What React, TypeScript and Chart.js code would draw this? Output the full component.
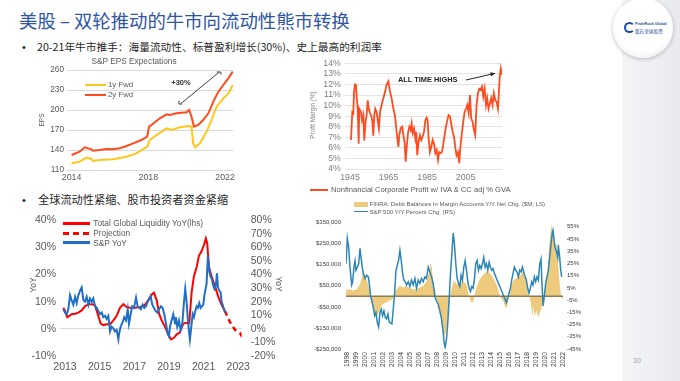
import React, { useEffect, useRef } from "react";
import { Chart, registerables } from "chart.js";

Chart.register(...registerables);

const SANS = "'Liberation Sans', Arial, sans-serif";
const CJK = "'Noto Sans CJK SC', 'Noto Sans', sans-serif";

// ---------------- Chart 1: S&P EPS Expectations ----------------
const EPS_2Y_YEARS = [2014.0, 2014.42, 2014.68, 2015.03, 2015.11, 2015.46, 2015.81, 2016.16, 2016.51, 2016.86, 2017.21, 2017.64, 2017.94, 2018.04, 2018.16, 2018.6, 2018.95, 2019.12, 2019.47, 2019.99, 2020.13, 2020.25, 2020.38, 2020.6, 2020.86, 2021.13, 2021.39, 2021.65, 2021.91, 2022.17, 2022.4];
const EPS_2Y = [132.5, 137.5, 144, 141, 139, 140, 141.5, 141, 142.5, 146, 150, 155, 160, 175, 177.5, 187.5, 193.5, 192.5, 195, 196.5, 200, 190, 175, 177.5, 185, 195, 212.5, 227.5, 237.5, 247.5, 257.5];
const EPS_1Y_YEARS = [2014.0, 2014.42, 2014.77, 2015.03, 2015.11, 2015.46, 2016.16, 2016.86, 2017.38, 2017.94, 2018.08, 2018.43, 2018.95, 2019.21, 2019.65, 2020.08, 2020.25, 2020.34, 2020.43, 2020.69, 2021.04, 2021.3, 2021.56, 2021.91, 2022.17, 2022.4];
const EPS_1Y = [120, 122.5, 128.5, 126.5, 123.5, 125, 126, 130, 135, 145, 155, 162.5, 172.5, 170, 174, 176, 175, 150, 144, 150, 167.5, 185, 205, 217.5, 225, 237.5];
const EPS_X_TICKS = [2014, 2018, 2022];
const EPS_Y_TICKS = [110, 140, 170, 200, 230, 260];
const EPS_BRACKET = [
  [[2019.6, 214], [2019.6, 209], [2019.76, 209]],
  [[2019.69, 209.45], [2021.7, 257]],
  [[2021.57, 257], [2021.77, 257], [2021.8, 253]],
];

// ---------------- Chart 2: Profit margin ----------------
const PM_YEARS = [1945.5, 1946.2, 1946.7, 1947.1, 1947.6, 1948.1, 1948.5, 1949.0, 1949.5, 1949.8,
  1950.7, 1951.2, 1951.9, 1952.4, 1953.1, 1953.6, 1954.2, 1954.7, 1955.4, 1956.1,
  1956.6, 1957.1, 1957.6, 1958.1, 1958.8, 1959.4, 1960.0, 1960.6, 1961.4, 1962.3,
  1963.2, 1964.0, 1964.9, 1965.8, 1966.6, 1967.5, 1968.3, 1969.2, 1970.1, 1970.6,
  1971.3, 1972.1, 1972.7, 1973.4, 1973.9, 1974.4, 1975.1, 1975.8, 1976.5, 1977.0,
  1977.5, 1978.2, 1978.9, 1979.4, 1979.9, 1980.6, 1981.3, 1982.0, 1982.7, 1983.4,
  1984.1, 1984.8, 1985.3, 1985.8, 1986.5, 1987.2, 1987.9, 1988.6, 1989.3, 1990.0,
  1990.7, 1991.3, 1992.0, 1992.7, 1993.4, 1994.1, 1994.8, 1995.5, 1996.2, 1996.9,
  1997.6, 1998.3, 1999.0, 1999.6, 2000.3, 2001.0, 2001.7, 2002.4, 2003.1, 2003.8,
  2004.5, 2005.2, 2005.9, 2006.6, 2007.3, 2007.9, 2008.6, 2009.3, 2010.0, 2010.7,
  2011.4, 2012.1, 2012.8, 2013.5, 2014.2, 2014.9, 2015.6, 2016.2, 2016.9, 2017.6,
  2018.3, 2019.0, 2019.7, 2020.4, 2021.1, 2021.8, 2022.3, 2022.8, 2023.3, 2023.9];
const PM = [6.74, 9.36, 9.27, 11.3, 12.0, 11.95, 10.7, 9.7, 6.4, 9.7,
  9.4, 8.6, 9.1, 6.7, 8.5, 9.1, 10.5, 9.7, 9.3, 9.0,
  8.5, 7.15, 9.1, 9.7, 9.4, 8.6, 7.85, 9.4, 10.05, 10.7,
  11.3, 12.0, 12.3, 11.3, 10.7, 9.7, 9.1, 7.5, 6.1, 7.2,
  7.85, 8.0, 7.2, 6.4, 4.7, 6.0, 7.4, 8.0, 7.7, 8.3,
  7.4, 7.85, 6.9, 7.5, 5.3, 6.6, 7.2, 6.75, 7.05, 7.5,
  8.6, 8.85, 8.6, 6.9, 5.6, 6.1, 6.75, 6.4, 5.5, 5.8,
  4.85, 5.6, 5.5, 5.6, 6.3, 7.2, 8.0, 8.6, 9.1, 9.0,
  8.2, 7.5, 7.05, 6.1, 5.3, 5.6, 4.55, 6.3, 7.4, 8.5,
  9.4, 9.7, 10.05, 9.3, 11.0, 8.8, 8.5, 7.7, 7.2, 10.05,
  11.15, 11.6, 11.5, 11.8, 10.85, 11.6, 10.05, 10.7, 9.7, 10.2,
  10.7, 10.05, 11.15, 10.5, 10.35, 9.7, 11.3, 12.9, 13.5, 12.9];
const PM_X_TICKS = [1945, 1965, 1985, 2005];
const PM_Y_TICKS = [4, 5, 6, 7, 8, 9, 10, 11, 12, 13, 14];
const PM_ARROW = [[[2005.2, 12.42], [2020.3, 13.05]]];

// ---------------- Chart 3: Global liquidity vs S&P YoY ----------------
const LIQ_YEARS = [2012.9, 2013.0, 2013.13, 2013.25, 2013.38, 2013.58, 2013.77, 2013.96, 2014.15, 2014.35,
  2014.54, 2014.73, 2014.92, 2015.06, 2015.21, 2015.4, 2015.6, 2015.79, 2015.98, 2016.17,
  2016.37, 2016.56, 2016.75, 2017.04, 2017.33, 2017.62, 2017.81, 2018.0, 2018.13, 2018.29,
  2018.44, 2018.58, 2018.77, 2018.96, 2019.12, 2019.29, 2019.44, 2019.63, 2019.83, 2020.02,
  2020.17, 2020.31, 2020.44, 2020.6, 2020.73, 2020.88, 2021.02, 2021.13, 2021.21, 2021.31,
  2021.46, 2021.65, 2021.85, 2022.04, 2022.23];
const LIQ = [7.75, 6.6, 4.3, 4.8, 5.4, 5.6, 6.0, 6.8, 8.3, 9.1,
  9.1, 8.7, 4.8, 1.95, 1.4, 1.7, 1.7, 3.1, 4.8, 7.75,
  9.1, 8.0, 7.75, 7.75, 8.0, 8.9, 10.6, 12.6, 13.3, 10.6,
  5.4, 3.1, 0.8, -2.1, -3.85, -3.3, -2.1, -1.3, 1.95, 2.2,
  1.95, 13.5, 19.35, 22.8, 26.9, 28.6, 30.9, 33.3, 31.5, 22.8,
  19.35, 15.9, 11.8, 8.9, 6.6];
const PROJ_YEARS = [2022.23, 2022.52, 2022.81, 2023.1, 2023.23];
const PROJ = [6.6, 2.55, -0.35, -1.5, -3.0];
const SPX_YEARS = [2012.9, 2013.0, 2013.1, 2013.19, 2013.29, 2013.38, 2013.48, 2013.58, 2013.67, 2013.77,
  2013.87, 2013.96, 2014.06, 2014.15, 2014.25, 2014.35, 2014.44, 2014.54, 2014.63, 2014.73,
  2014.83, 2014.92, 2015.02, 2015.12, 2015.21, 2015.31, 2015.4, 2015.5, 2015.6, 2015.69,
  2015.79, 2015.88, 2015.98, 2016.08, 2016.13, 2016.21, 2016.33, 2016.42, 2016.52, 2016.62,
  2016.69, 2016.79, 2016.88, 2016.98, 2017.1, 2017.19, 2017.29, 2017.38, 2017.48, 2017.58,
  2017.67, 2017.77, 2017.87, 2017.94, 2018.04, 2018.13, 2018.23, 2018.33, 2018.42, 2018.54,
  2018.63, 2018.73, 2018.83, 2018.92, 2019.0, 2019.06, 2019.15, 2019.25, 2019.35, 2019.4,
  2019.48, 2019.58, 2019.67, 2019.77, 2019.87, 2019.94, 2020.02, 2020.08, 2020.15, 2020.21,
  2020.29, 2020.37, 2020.44, 2020.52, 2020.6, 2020.67, 2020.75, 2020.83, 2020.9, 2020.98,
  2021.06, 2021.17, 2021.25, 2021.33, 2021.4, 2021.48, 2021.56, 2021.63, 2021.71, 2021.77,
  2021.83, 2021.9, 2021.98, 2022.04, 2022.1, 2022.17, 2022.25];
const SPX = [14.4, 12, 10.8, 14.4, 24.8, 21.2, 17.8, 23.6, 19, 24.8,
  28.2, 30.6, 21.2, 20, 23.6, 17.8, 22.4, 20, 22.4, 16.6,
  15.5, 13.2, 10.8, 12, 8.6, 9.6, 7.4, 9.6, -1.8, 1.6,
  0.4, -1.8, -0.7, -7.7, -3, 1.6, 5.1, 8.6, 6.2, 14.4,
  3.9, 10.8, 16.6, 15.5, 23, 16.6, 15.5, 14.4, 17.8, 15.5,
  16.6, 20, 22.4, 24.2, 17.8, 15.5, 13.2, 12, 14.4, 16.6,
  15.5, 10.8, 3.9, -3, -5.4, 1.6, 6.2, 10.8, 3.9, 8.6,
  1.6, 6.2, -0.7, 3.9, 20, 29.4, 20, 8.6, -0.7, -7.7,
  1.6, 10.8, 8.6, 13.2, 16.6, 15.5, 19, 15.5, 16.6, 17.8,
  26, 33, 53.8, 42.2, 38.7, 36.4, 31.8, 29.4, 31.8, 41,
  30.6, 28.2, 27, 20, 17.8, 14.4, 12];
const LIQ_X_TICKS = [2013, 2015, 2017, 2019, 2021, 2023];
const LIQ_Y_TICKS = [-10, 0, 10, 20, 30, 40];
const SPX_Y_TICKS = [-20, -10, 0, 10, 20, 30, 40, 50, 60, 70, 80];

// ---------------- Chart 4: FINRA margin debt vs S&P 500 ----------------
const FINRA_YEARS = [1997.85, 1998.29, 1998.66, 1999.04, 1999.41, 1999.59, 1999.78, 1999.96, 2000.15, 2000.33,
  2000.52, 2000.7, 2000.89, 2001.07, 2001.26, 2001.44, 2001.63, 2001.81, 2002.0, 2002.37,
  2002.74, 2003.11, 2003.29, 2003.48, 2003.85, 2004.22, 2004.59, 2004.96, 2005.33, 2005.7,
  2006.07, 2006.44, 2006.81, 2007.11, 2007.26, 2007.41, 2007.55, 2007.74, 2007.92, 2008.11,
  2008.29, 2008.48, 2008.66, 2008.81, 2008.96, 2009.11, 2009.26, 2009.41, 2009.59, 2009.78,
  2009.96, 2010.15, 2010.52, 2010.89, 2011.26, 2011.44, 2011.63, 2011.81, 2012.0, 2012.18,
  2012.37, 2012.74, 2013.11, 2013.48, 2013.85, 2014.22, 2014.59, 2014.78, 2014.96, 2015.15,
  2015.33, 2015.52, 2015.7, 2015.89, 2016.07, 2016.26, 2016.44, 2016.81, 2017.18, 2017.55,
  2017.74, 2017.92, 2018.11, 2018.29, 2018.48, 2018.59, 2018.74, 2018.85, 2019.04, 2019.22,
  2019.41, 2019.59, 2019.78, 2019.96, 2020.15, 2020.33, 2020.52, 2020.74, 2020.89, 2021.07,
  2021.26, 2021.44, 2021.63, 2021.81, 2021.96];
const FINRA = [30000, 34000, 26000, 34000, 57000, 88000, 125000, 103000, 80000, 57000,
  18000, -35000, -51000, -82000, -97000, -82000, -66000, -43000, -35000, -28000,
  -20000, -12000, 18000, 34000, 49000, 42000, 49000, 38000, 34000, 34000,
  42000, 49000, 72000, 118000, 157000, 134000, 72000, 34000, -5000, -43000,
  -82000, -112000, -158000, -189000, -174000, -128000, -66000, -5000, 34000, 65000,
  72000, 57000, 65000, 72000, 57000, 18000, -12000, -28000, -28000, 11000,
  42000, 80000, 103000, 118000, 111000, 88000, 57000, 34000, 3000, -12000,
  -20000, -43000, -58000, -20000, 11000, 49000, 72000, 88000, 95000, 118000,
  95000, 72000, 34000, -5000, -43000, -97000, -51000, -97000, -66000, -97000,
  -82000, -58000, -5000, 34000, 72000, 149000, 272000, 342000, 303000, 226000,
  257000, 165000, 57000, -5000, -20000];
const SP500_YEARS = [1997.85, 1998.0, 1998.15, 1998.29, 1998.48, 1998.59, 1998.74, 1998.85, 1998.96, 1999.11,
  1999.26, 1999.41, 1999.52, 1999.66, 1999.78, 1999.96, 2000.15, 2000.33, 2000.44, 2000.59,
  2000.74, 2000.89, 2001.04, 2001.18, 2001.33, 2001.48, 2001.63, 2001.78, 2001.92, 2002.07,
  2002.22, 2002.37, 2002.52, 2002.66, 2002.81, 2002.96, 2003.11, 2003.26, 2003.41, 2003.55,
  2003.7, 2003.85, 2004.0, 2004.15, 2004.29, 2004.44, 2004.59, 2004.78, 2004.96, 2005.15,
  2005.33, 2005.52, 2005.7, 2005.89, 2006.07, 2006.26, 2006.44, 2006.63, 2006.81, 2007.0,
  2007.18, 2007.37, 2007.55, 2007.74, 2007.92, 2008.11, 2008.29, 2008.48, 2008.66, 2008.78,
  2008.89, 2009.04, 2009.18, 2009.33, 2009.48, 2009.63, 2009.78, 2009.92, 2010.07, 2010.22,
  2010.37, 2010.52, 2010.66, 2010.81, 2010.96, 2011.11, 2011.26, 2011.41, 2011.55, 2011.7,
  2011.85, 2012.0, 2012.15, 2012.29, 2012.44, 2012.59, 2012.74, 2012.89, 2013.04, 2013.18,
  2013.33, 2013.48, 2013.63, 2013.78, 2013.92, 2014.07, 2014.22, 2014.37, 2014.52, 2014.66,
  2014.81, 2014.96, 2015.11, 2015.26, 2015.41, 2015.55, 2015.7, 2015.85, 2016.0, 2016.15,
  2016.29, 2016.44, 2016.59, 2016.74, 2016.89, 2017.04, 2017.18, 2017.33, 2017.48, 2017.63,
  2017.78, 2017.92, 2018.07, 2018.22, 2018.37, 2018.52, 2018.66, 2018.81, 2018.96, 2019.11,
  2019.26, 2019.41, 2019.55, 2019.66, 2019.78, 2019.92, 2020.07, 2020.22, 2020.37, 2020.52,
  2020.66, 2020.81, 2020.89, 2021.11, 2021.26, 2021.41, 2021.48, 2021.63, 2021.74, 2021.85];
const SP500 = [24.7, 45.4, 38, 22, 7.4, 10, 22, 27, 19.4, 22,
  24.7, 37.4, 30, 22, 16.7, 12.7, 15.4, 14, 8.75, -1.9,
  -5.8, -11.1, -17.8, -15.1, -23, -27, -15.1, -12.5, -17.8, -13.8,
  -19.1, -20.4, -16.4, -23, -23.6, -24.4, -12.5, 0.8, 19.4, 23.3,
  27.3, 35.8, 27.3, 16.7, 11.4, 10, 7.4, 10, 6.1, 11.4,
  7.4, 12.7, 4.8, 11.4, 8.75, 12.7, 10, 14, 12.7, 22,
  18, 14, 8.75, -1.9, -5.8, -8.5, -13.8, -20.4, -31, -40.3,
  -43.8, -36.3, -23, -4.5, 16.7, 32.6, 49.9, 40.6, 24.7, 12.7,
  8.75, 6.1, 15.4, 11.4, 22, 27.3, 19.4, 10, 4.8, 2.1,
  6.1, 4.8, 12.7, 24.7, 27.3, 19.4, 23.3, 20.7, 24.7, 30,
  22, 24.7, 19.4, 26, 22, 19.4, 20.7, 16.7, 14, 11.4,
  8.75, 6.1, 3.4, 0.8, -1.9, -4.5, -7.2, -3.2, 0.8, 4.8,
  11.4, 16.7, 22, 19.4, 18, 14, 19.4, 18, 22, 18,
  14, 11.4, 4.8, 0.8, 4.8, 10, 7.4, 14, 10, 14,
  11.4, 24.7, 28.6, 8.75, -9.8, -1.9, 8.75, 14, 19.4, 30,
  40.6, 49.9, 52, 38, 35, 30, 40, 30, 20, 14];
const FINRA_X_TICKS = [1998, 1999, 2000, 2001, 2002, 2003, 2004, 2005, 2006, 2007, 2008, 2009, 2010, 2011, 2012, 2013, 2014, 2015, 2016, 2017, 2018, 2019, 2020, 2021, 2022];
const FINRA_Y_TICKS = [-250000, -150000, -50000, 50000, 150000, 250000, 350000];
const SP500_Y_TICKS = [-45, -35, -25, -15, -5, 5, 15, 25, 35, 45, 55];

// ---------------- helpers ----------------
const pts = (xs: number[], ys: number[]) => xs.map((x, i) => ({ x, y: ys[i] }));
const fixW = (w: number) => (s: any) => { s.width = w; };
const fixH = (h: number) => (s: any) => { s.height = h; };
const setTicks = (vals: number[]) => (s: any) => { s.ticks = vals.map((value) => ({ value })); };

const base = (padding: any) => ({
  animation: false,
  responsive: false,
  maintainAspectRatio: false,
  devicePixelRatio: 1,
  events: [],
  layout: { padding },
  plugins: { legend: { display: false }, tooltip: { enabled: false }, title: { display: false } },
  elements: { point: { radius: 0 }, line: { tension: 0 } },
});

function polylinePlugin(id: string, segments: number[][][], color: string, width: number, arrow = false) {
  return {
    id,
    afterDatasetsDraw(chart: any) {
      const { ctx, scales } = chart;
      const xs = scales.x, ys = scales.y;
      ctx.save();
      ctx.strokeStyle = color;
      ctx.fillStyle = color;
      ctx.lineWidth = width;
      segments.forEach((seg) => {
        ctx.beginPath();
        seg.forEach(([a, b], i) => {
          const px = xs.getPixelForValue(a), py = ys.getPixelForValue(b);
          if (i === 0) ctx.moveTo(px, py); else ctx.lineTo(px, py);
        });
        ctx.stroke();
        if (arrow) {
          const n = seg.length;
          const x1 = xs.getPixelForValue(seg[n - 2][0]), y1 = ys.getPixelForValue(seg[n - 2][1]);
          const x2 = xs.getPixelForValue(seg[n - 1][0]), y2 = ys.getPixelForValue(seg[n - 1][1]);
          const ang = Math.atan2(y2 - y1, x2 - x1);
          const L = 5;
          ctx.beginPath();
          ctx.moveTo(x2, y2);
          ctx.lineTo(x2 - L * Math.cos(ang - 0.45), y2 - L * Math.sin(ang - 0.45));
          ctx.lineTo(x2 - L * Math.cos(ang + 0.45), y2 - L * Math.sin(ang + 0.45));
          ctx.closePath();
          ctx.fill();
        }
      });
      ctx.restore();
    },
  };
}

const zeroLinePlugin = {
  id: "zeroLine",
  beforeDatasetDraw(chart: any, args: any) {
    if (args.index !== 0) return;
    const { ctx, chartArea, scales } = chart;
    const y = scales.y.getPixelForValue(0);
    ctx.save();
    ctx.strokeStyle = "#8A7A55";
    ctx.lineWidth = 1.5;
    ctx.beginPath();
    ctx.moveTo(chartArea.left, y);
    ctx.lineTo(chartArea.right, y);
    ctx.stroke();
    ctx.restore();
  },
};

// ---------------- chart configs ----------------
function epsConfig(): any {
  return {
    type: "line",
    data: {
      datasets: [
        { data: pts(EPS_2Y_YEARS, EPS_2Y), borderColor: "#FF4A1C", borderWidth: 2, pointRadius: 0 },
        { data: pts(EPS_1Y_YEARS, EPS_1Y), borderColor: "#FFC61E", borderWidth: 2, pointRadius: 0 },
      ],
    },
    options: {
      ...base({ top: 15, right: 6.7, left: 0, bottom: 0 }),
      scales: {
        x: {
          type: "linear", min: 2013.76, max: 2022.43,
          afterBuildTicks: setTicks(EPS_X_TICKS), afterFit: fixH(15),
          grid: { display: false, drawTicks: false }, border: { display: false },
          ticks: { color: "#595959", font: { family: SANS, size: 8.8 }, padding: 2, maxRotation: 0, autoSkip: false, callback: (v: any) => String(v) },
        },
        y: {
          min: 110, max: 260, afterBuildTicks: setTicks(EPS_Y_TICKS), afterFit: fixW(47),
          grid: { color: "#d9d9d9", drawTicks: false }, border: { display: false },
          ticks: { color: "#595959", font: { family: SANS, size: 8.3 }, padding: 3, autoSkip: false },
        },
      },
    },
    plugins: [polylinePlugin("bracket", EPS_BRACKET, "#404040", 1)],
  };
}

function pmConfig(): any {
  return {
    type: "line",
    data: { datasets: [{ data: pts(PM_YEARS, PM), borderColor: "#FF4B1F", borderWidth: 1.8, pointRadius: 0 }] },
    options: {
      ...base({ top: 11.3, right: 10, left: 0, bottom: 0 }),
      scales: {
        x: {
          type: "linear", min: 1942.4, max: 2023.9,
          afterBuildTicks: setTicks(PM_X_TICKS), afterFit: fixH(16),
          grid: { display: false, drawTicks: false }, border: { display: false },
          ticks: { color: "#7f7f7f", font: { family: SANS, size: 8.8 }, padding: 3, maxRotation: 0, autoSkip: false, callback: (v: any) => String(v) },
        },
        y: {
          min: 4, max: 14, afterBuildTicks: setTicks(PM_Y_TICKS), afterFit: fixW(55),
          grid: { color: "#e3e3e3", drawTicks: false }, border: { display: false },
          ticks: { color: "#7f7f7f", font: { family: SANS, size: 8.7 }, padding: 4.3, autoSkip: false, callback: (v: any) => v + "%" },
        },
      },
    },
    plugins: [polylinePlugin("arrow", PM_ARROW, "#262626", 1, true)],
  };
}

function liqConfig(): any {
  return {
    type: "line",
    data: {
      datasets: [
        { data: pts(SPX_YEARS, SPX), yAxisID: "y1", borderColor: "#1F6FC8", borderWidth: 2, pointRadius: 0 },
        { data: pts(LIQ_YEARS, LIQ), yAxisID: "y", borderColor: "#FF0000", borderWidth: 2, pointRadius: 0 },
        { data: pts(PROJ_YEARS, PROJ), yAxisID: "y", borderColor: "#FF0000", borderWidth: 2.5, borderDash: [5, 4], pointRadius: 0 },
      ],
    },
    options: {
      ...base({ top: 7.3, right: 0, left: 0, bottom: 0 }),
      scales: {
        x: {
          type: "linear", min: 2012.71, max: 2023.2,
          afterBuildTicks: setTicks(LIQ_X_TICKS), afterFit: fixH(20),
          grid: { display: false, drawTicks: false }, border: { display: false },
          ticks: { color: "#595959", font: { family: SANS, size: 10.5 }, padding: 5, maxRotation: 0, autoSkip: false, callback: (v: any) => String(v) },
        },
        y: {
          position: "left", min: -10, max: 40, afterBuildTicks: setTicks(LIQ_Y_TICKS), afterFit: fixW(50),
          ticks: { color: "#595959", font: { family: SANS, size: 10.5 }, padding: 4, autoSkip: false, callback: (v: any) => v + "%" },
          grid: { drawTicks: false, color: (c: any) => (c.tick && c.tick.value === 0 ? "#d9d9d9" : "rgba(0,0,0,0)") },
          border: { display: false },
        },
        y1: {
          position: "right", min: -20, max: 80, afterBuildTicks: setTicks(SPX_Y_TICKS), afterFit: fixW(36.3),
          ticks: { color: "#595959", font: { family: SANS, size: 10.5 }, padding: 9, autoSkip: false, callback: (v: any) => v + "%" },
          grid: { display: false, drawTicks: false }, border: { display: false },
        },
      },
    },
  };
}

function finraConfig(): any {
  return {
    type: "line",
    data: {
      datasets: [
        { data: pts(SP500_YEARS, SP500), yAxisID: "y1", borderColor: "#2D86B5", borderWidth: 1.5, pointRadius: 0, order: 0 },
        { data: pts(FINRA_YEARS, FINRA), yAxisID: "y", borderColor: "rgba(0,0,0,0)", borderWidth: 0, backgroundColor: "#EECA7C", fill: "origin", pointRadius: 0, order: 1 },
      ],
    },
    options: {
      ...base({ top: 5, right: 0, left: 0, bottom: 0 }),
      scales: {
        x: {
          type: "linear", min: 1997.85, max: 2022.0,
          afterBuildTicks: setTicks(FINRA_X_TICKS), afterFit: fixH(25),
          grid: { display: false, drawTicks: false }, border: { display: false },
          ticks: { color: "#404040", font: { family: SANS, size: 6.8 }, padding: 3, minRotation: 90, maxRotation: 90, autoSkip: false, callback: (v: any) => String(v) },
        },
        y: {
          position: "left", min: -250000, max: 350000, afterBuildTicks: setTicks(FINRA_Y_TICKS), afterFit: fixW(61),
          grid: { display: false, drawTicks: false }, border: { display: false },
          ticks: { color: "#404040", font: { family: SANS, size: 6 }, padding: 5, autoSkip: false, callback: (v: any) => (v < 0 ? "-$" : "$") + Math.abs(v).toLocaleString("en-US") },
        },
        y1: {
          position: "right", min: -45, max: 58.4, afterBuildTicks: setTicks(SP500_Y_TICKS), afterFit: fixW(22),
          grid: { display: false, drawTicks: false }, border: { display: false },
          ticks: { color: "#404040", font: { family: SANS, size: 6 }, padding: 4, autoSkip: false, callback: (v: any) => v + "%" },
        },
      },
    },
    plugins: [zeroLinePlugin],
  };
}

// ---------------- components ----------------
function ChartCanvas({ left, top, width, height, config }: { left: number; top: number; width: number; height: number; config: () => any }) {
  const ref = useRef<HTMLCanvasElement>(null);
  useEffect(() => {
    const chart = new Chart(ref.current as HTMLCanvasElement, config());
    return () => chart.destroy();
  }, []);
  return (
    <div style={{ position: "absolute", left, top, width, height }}>
      <canvas ref={ref} width={width} height={height} style={{ display: "block", width, height }} />
    </div>
  );
}

function Txt({ x, y, size, color = "#595959", family = SANS, weight = 400, rotate = 0, anchor = "left", children }: any) {
  const tx = anchor === "left" ? "0" : anchor === "center" ? "-50%" : "-100%";
  return (
    <div
      style={{
        position: "absolute", left: x, top: y, fontSize: size, color, fontFamily: family, fontWeight: weight,
        lineHeight: 1, whiteSpace: "nowrap",
        transform: rotate ? `translate(-50%,-50%) rotate(${rotate}deg)` : `translate(${tx},-50%)`,
      }}
    >
      {children}
    </div>
  );
}

function Mark({ x, y, w, h, bg }: any) {
  return <div style={{ position: "absolute", left: x, top: y - h / 2, width: w, height: h, background: bg }} />;
}

export default function App() {
  return (
    <div style={{ position: "fixed", left: 0, top: 0, width: 680, height: 381, background: "#ffffff", overflow: "hidden" }}>
      {/* right decorative strip and logo */}
      <div style={{ position: "absolute", left: 622, top: 0, width: 58, height: 381, background: "linear-gradient(90deg,#f4f5f7,#e8eaee)" }} />
      <div style={{ position: "absolute", left: 613, top: -2, width: 60, height: 60, borderRadius: "50%", background: "radial-gradient(circle at 50% 42%, #ffffff 60%, #eef0f3 80%, #cfd2d8 100%)", boxShadow: "0 1px 4px rgba(0,0,0,0.25)" }} />
      <div style={{ position: "absolute", left: 624, top: 22, width: 7, height: 7, borderRadius: "50%", border: "2px solid #1E4E9C", borderRightColor: "transparent" }} />
      <Txt x={635} y={25} size={3.8} color="#1E4E9C" weight={700}>PrideRock Global</Txt>
      <Txt x={635} y={30.5} size={4.6} color="#1E4E9C" family={CJK}>磐石全球投资</Txt>
      <Txt x={637} y={360} size={7} color="#a6a6a6" anchor="center">30</Txt>

      {/* titles */}
      <Txt x={19} y={19.5} size={18.4} color="#2F55A4" family={CJK}>美股 – 双轮推动的牛市向流动性熊市转换</Txt>
      <Txt x={22} y={46.5} size={11} color="#262626">•</Txt>
      <Txt x={37} y={46.5} size={10.7} color="#262626" family={CJK}>20-21年牛市推手：海量流动性、标普盈利增长(30%)、史上最高的利润率</Txt>
      <Txt x={22} y={200} size={11} color="#262626">•</Txt>
      <Txt x={38} y={200} size={11.2} color="#262626" family={CJK}>全球流动性紧缩、股市投资者资金紧缩</Txt>

      {/* Chart 1 */}
      <ChartCanvas left={20} top={55} width={220} height={130} config={epsConfig} />
      <Txt x={134} y={61} size={8.3} color="#595959" anchor="center">S&amp;P EPS Expectations</Txt>
      <Txt x={42} y={120} size={6.5} color="#595959" rotate={-90}>EPS</Txt>
      <Mark x={85} y={84.5} w={21} h={2} bg="#FFC61E" />
      <Txt x={108} y={84.5} size={7.8} color="#595959">1y Fwd</Txt>
      <Mark x={85} y={94.5} w={21} h={2} bg="#FF4A1C" />
      <Txt x={108} y={94.5} size={7.8} color="#595959">2y Fwd</Txt>
      <Txt x={181} y={83.3} size={7.5} color="#333333" weight={700} anchor="center">+30%</Txt>

      {/* Chart 2 */}
      <ChartCanvas left={290} top={52} width={222} height={133} config={pmConfig} />
      <Txt x={313} y={115} size={6.3} color="#7f7f7f" rotate={-90}>Profit Margin (%)</Txt>
      <Txt x={398} y={79.5} size={7.4} color="#262626" weight={700}>ALL TIME HIGHS</Txt>
      <Mark x={310} y={190} w={18} h={2.2} bg="#FF4B1F" />
      <Txt x={331} y={190} size={7.6} color="#595959">Nonfinancial Corporate Profit w/ IVA &amp; CC adj % GVA</Txt>

      {/* Chart 3 */}
      <ChartCanvas left={10} top={205} width={268} height={171} config={liqConfig} />
      <Txt x={33} y={285} size={8.5} color="#595959" rotate={-90}>YoY</Txt>
      <Txt x={279} y={284} size={8.5} color="#595959" rotate={90}>YoY</Txt>
      <Mark x={63} y={223.3} w={27} h={2.5} bg="#FF0000" />
      <Txt x={93.3} y={223.3} size={8.3} color="#595959">Total Global Liquidity YoY(lhs)</Txt>
      <Mark x={63} y={233.3} w={27} h={2.5} bg="repeating-linear-gradient(90deg,#FF0000 0px,#FF0000 6px,transparent 6px,transparent 10px)" />
      <Txt x={93.3} y={233.3} size={8.3} color="#595959">Projection</Txt>
      <Mark x={63} y={242.7} w={27} h={3} bg="#1F6FC8" />
      <Txt x={93.3} y={242.7} size={8.3} color="#595959">S&amp;P YoY</Txt>

      {/* Chart 4 */}
      <ChartCanvas left={285} top={214} width={300} height={160} config={finraConfig} />
      <Mark x={354} y={204.3} w={14} h={5} bg="#EECA7C" />
      <Txt x={369.5} y={204.3} size={6} color="#595959">FINRA: Debit Balances In Margin Accounts Y/Y Net Chg. ($M; LS)</Txt>
      <Mark x={354} y={211.7} w={14} h={1.5} bg="#2D86B5" />
      <Txt x={369.5} y={211.7} size={6} color="#595959">S&amp;P 500 Y/Y Percent Chg. (RS)</Txt>
    </div>
  );
}
